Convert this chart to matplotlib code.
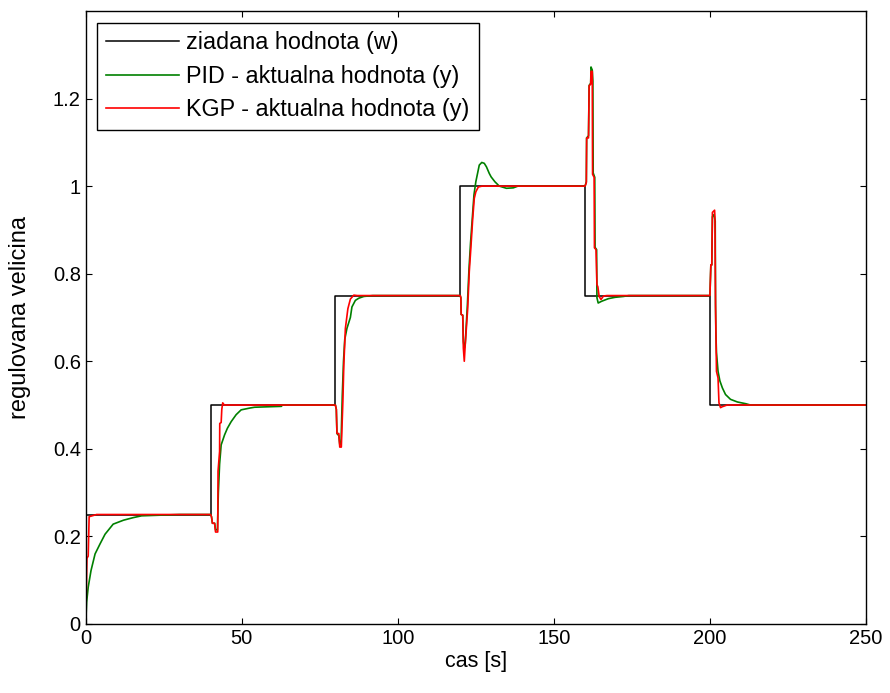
import numpy as np
import matplotlib
matplotlib.use("Agg")
import matplotlib.pyplot as plt

# ziadana hodnota (w) - setpoint steps
w_t = [0, 40, 80, 120, 160, 200, 250]
w_y = [0.25, 0.5, 0.75, 1.0, 0.75, 0.5, 0.5]

# PID - aktualna hodnota (y)
pid_t = [0, 0.3, 0.8, 1.7, 3.0, 4.6, 6.2, 8.8, 12.1, 15.3, 17.9, 30, 40,
         40.3, 40.6, 41.3, 41.6, 42.2, 42.5, 42.9, 43.4, 44.5, 45.4, 46.6, 48.2, 49.8, 52.5, 54.1, 62.7, 63, 80,
         80.3, 80.5, 81.1, 81.4, 81.8, 82.2, 82.6, 83.0, 83.7, 84.8, 85.3, 86.4, 87.5, 89.1, 92, 120,
         120.2, 120.3, 120.8, 121.0, 121.3, 121.6, 122.3, 122.8, 123.3, 123.9, 124.4, 125.0, 126.1, 126.9,
         127.7, 128.4, 129.3, 129.9, 131.1, 132.5, 134.8, 137, 138.5, 160,
         160.4, 160.5, 161.1, 161.3, 161.8, 161.9, 162.3, 162.5, 162.6, 163.1, 163.2, 163.7, 163.8, 164.2,
         165.3, 167.5, 169.6, 172.3, 174, 200,
         200.3, 200.6, 200.8, 201.3, 201.7, 201.8, 201.9, 202.1, 202.6, 203.2, 204, 205, 206.6, 208.8, 211.5, 213, 250]
pid_y = [0, 0.05, 0.084, 0.122, 0.16, 0.183, 0.205, 0.228, 0.237, 0.243, 0.247, 0.25, 0.25,
         0.245, 0.23, 0.23, 0.215, 0.215, 0.30, 0.365, 0.409, 0.432, 0.447, 0.462, 0.478, 0.489, 0.493, 0.495, 0.497, 0.5, 0.5,
         0.49, 0.435, 0.43, 0.41, 0.41, 0.52, 0.60, 0.65, 0.675, 0.70, 0.724, 0.739, 0.744, 0.748, 0.75, 0.75,
         0.745, 0.707, 0.705, 0.645, 0.63, 0.64, 0.73, 0.81, 0.87, 0.93, 0.98, 1.01, 1.048, 1.054,
         1.052, 1.044, 1.029, 1.021, 1.01, 1.0, 0.995, 0.996, 1.0, 1.0,
         1.01, 1.11, 1.115, 1.23, 1.235, 1.272, 1.265, 1.24, 1.03, 1.02, 0.86, 0.855, 0.745, 0.733,
         0.737, 0.743, 0.746, 0.748, 0.75, 0.75,
         0.82, 0.82, 0.93, 0.935, 0.92, 0.73, 0.668, 0.62, 0.577, 0.555, 0.539, 0.524, 0.513, 0.507, 0.503, 0.5, 0.5]

# KGP - aktualna hodnota (y)
kgp_t = [0, 0.4, 0.8, 1.1, 3.5, 40,
         40.3, 40.6, 41.3, 41.6, 42.3, 42.4, 42.9, 42.95, 43.4, 43.6, 43.9, 44.4, 80,
         80.3, 80.5, 81.1, 81.4, 81.9, 82.4, 82.7, 83.2, 84.0, 84.8, 85.9, 87, 120,
         120.2, 120.3, 120.8, 121.0, 121.3, 121.6, 122.4, 122.9, 123.4, 124.0, 124.5, 125.0, 125.8, 127, 160,
         160.4, 160.5, 161.1, 161.3, 161.8, 161.9, 162.3, 162.4, 162.9, 163.0, 163.5, 163.8, 164.1, 164.5,
         165.1, 165.9, 167, 200,
         200.3, 200.6, 200.8, 201.5, 201.6, 201.8, 202.1, 202.6, 202.9, 203.4, 203.9, 205.5, 250]
kgp_y = [0, 0.15, 0.155, 0.245, 0.25, 0.25,
         0.245, 0.23, 0.23, 0.21, 0.21, 0.349, 0.394, 0.458, 0.46, 0.49, 0.505, 0.5, 0.5,
         0.49, 0.435, 0.435, 0.404, 0.404, 0.509, 0.592, 0.675, 0.72, 0.742, 0.751, 0.75, 0.75,
         0.745, 0.707, 0.705, 0.63, 0.60, 0.638, 0.721, 0.805, 0.858, 0.926, 0.972, 0.987, 0.998, 1.0, 1.0,
         1.008, 1.11, 1.11, 1.229, 1.233, 1.262, 1.262, 1.027, 1.02, 0.859, 0.855, 0.775, 0.77, 0.748,
         0.741, 0.749, 0.75, 0.75,
         0.82, 0.82, 0.94, 0.945, 0.93, 0.729, 0.577, 0.562, 0.505, 0.494, 0.496, 0.5, 0.5]

x_ticks = [0, 50, 100, 150, 200, 250]
y_ticks = [0, 0.2, 0.4, 0.6, 0.8, 1.0, 1.2]
y_labels = ['0', '0.2', '0.4', '0.6', '0.8', '1', '1.2']

plt.rcParams['font.family'] = ['Liberation Sans', 'DejaVu Sans']

fig = plt.figure(figsize=(8.9, 6.93), dpi=100)
ax = fig.add_axes([0.0963, 0.0996, 0.8767, 0.8846])

ax.plot(w_t, w_y, color='black', lw=1.1, drawstyle='steps-post', label='ziadana hodnota (w)')
ax.plot(pid_t, pid_y, color='#008000', lw=1.2, label='PID - aktualna hodnota (y)')
ax.plot(kgp_t, kgp_y, color='#ff0000', lw=1.2, label='KGP - aktualna hodnota (y)')

ax.set_xlim(0, 250)
ax.set_ylim(0, 1.4)
ax.set_xticks(x_ticks)
ax.set_yticks(y_ticks)
ax.set_yticklabels(y_labels)
ax.tick_params(direction='in', top=True, right=True, length=4, width=0.8, labelsize=14.5)
for s in ax.spines.values():
    s.set_linewidth(1.0)

ax.set_xlabel('cas [s]', fontsize=15.5, labelpad=2)
ax.set_ylabel('regulovana velicina', fontsize=17)
ax.yaxis.set_label_coords(-0.07, 0.5)

leg = ax.legend(loc='upper left', bbox_to_anchor=(0.0149, 0.981), borderaxespad=0,
                fancybox=False, edgecolor='black', framealpha=1, fontsize=16.8,
                handlelength=3.1, handletextpad=0.34, labelspacing=0.45, borderpad=0.38)
leg.get_frame().set_linewidth(1.0)

fig.savefig('out.png', dpi=100)
